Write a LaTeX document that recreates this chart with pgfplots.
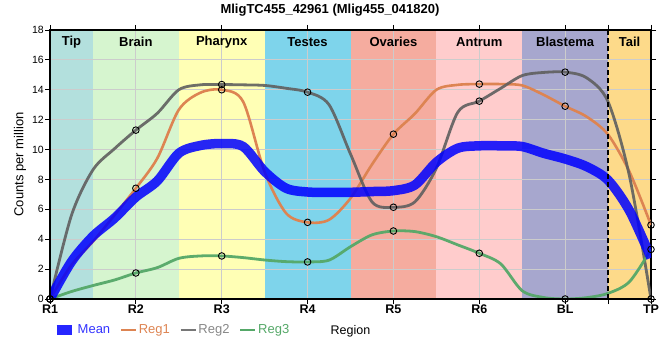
\documentclass[border=0pt]{standalone}
\usepackage{pgfplots}
\usepackage{pgfplotstable}
\pgfplotsset{compat=1.18}
\usepackage{fontspec}
\setmainfont{Liberation Sans}
\definecolor{meanblue}{RGB}{0,0,255}
\definecolor{regA}{HTML}{DD8452}
\definecolor{regB}{HTML}{5F5F5F}
\definecolor{regC}{HTML}{55A868}
\definecolor{bTip}{HTML}{B3E0DD}
\definecolor{bBrain}{HTML}{D6F5CF}
\definecolor{bPhar}{HTML}{FFFFB5}
\definecolor{bTest}{HTML}{7ED4EB}
\definecolor{bOva}{HTML}{F5AC9F}
\definecolor{bAnt}{HTML}{FFCCCC}
\definecolor{bBla}{HTML}{A7A7CE}
\definecolor{bTail}{HTML}{FDDA8A}
\pgfplotstableread{
x     reg1   reg2   reg3   mean
0     0      0      0      0
0.25  2.28   5.6    0.5    2.5
0.5   3.84   8.64   0.9    4.2
0.75  5.6    10.05  1.27   5.4
1     7.41   11.3   1.74   6.82
1.25  9.42   12.43  2.1    7.9
1.5   12.66  14.0   2.72   9.75
1.75  13.8   14.33  2.88   10.27
2     14.0   14.35  2.88   10.4
2.25  13.2   14.33  2.77   10.2
2.5   8.5    14.29  2.61   8.53
2.75  5.74   14.1   2.5    7.41
3     5.13   13.84  2.48   7.16
3.25  5.3    13.0   2.6    7.14
3.5   6.74   9.7    3.5    7.14
3.75  9.0    6.5    4.29   7.19
4     11.03  6.14   4.55   7.25
4.25  12.4   6.5    4.51   7.63
4.5   14.0   8.75   4.17   9.15
4.75  14.33  12.5   3.62   10.09
5     14.38  13.24  3.06   10.25
5.25  14.38  14.1   2.35   10.25
5.5   14.29  14.95  0.55   10.2
5.75  13.66  15.16  0.1    9.75
6     12.9   15.18  0      9.37
6.25  12.2   14.8   0.09   8.86
6.5   11.0   13.2   0.38   7.95
6.75  8.5    8.2    1.16   5.9
7     4.95   0      3.32   2.76
}\tabcurves
\pgfplotstableread{
x  reg1   reg2   reg3
0  0      0      0
1  7.41   11.3   1.74
2  14.0   14.35  2.88
3  5.13   13.84  2.48
4  11.03  6.14   4.55
5  14.38  13.24  3.06
6  12.9   15.18  0
7  4.95   0      3.32
}\tabpts
\begin{document}
\begin{tikzpicture}
\begin{axis}[
  set layers,
  scale only axis, width=601bp, height=269bp,
  xmin=0, xmax=7, ymin=0, ymax=18,
  xtick={0,...,7},
  xticklabels={R1,R2,R3,R4,R5,R6,BL,TP},
  extra x ticks={6.5}, extra x tick labels={}, extra x tick style={grid=none},
  ytick={0,2,...,18},
  /pgf/number format/assume math mode=true,
  tick align=outside,
  major tick length=5bp,
  tick style={black, line width=0.8bp},
  grid=major,
  grid style={color=black!20, line width=0.8bp},
  axis line style={black, line width=1.2bp},
  yticklabel style={font=\fontsize{10.5bp}{12bp}\selectfont, inner sep=1bp},
  xticklabel style={font=\bfseries\fontsize{12.5bp}{14bp}\selectfont, inner sep=1bp},
  ylabel={Counts per million},
  ylabel style={font=\fontsize{13bp}{15bp}\selectfont, at={(axis description cs:0,0.5)}, anchor=center, yshift=30bp},
  xlabel={Region},
  xlabel style={font=\fontsize{12.5bp}{15bp}\selectfont, at={(axis description cs:0.5,0)}, anchor=center, yshift=-32bp},
  legend columns=-1,
  legend style={draw=none, fill=none, at={(axis description cs:0,0)}, anchor=west, xshift=2bp, yshift=-31bp,
    font=\fontsize{13bp}{15bp}\selectfont, inner sep=0pt,
    nodes={inner sep=1.5bp},
    /tikz/every odd column/.append style={column sep=0bp},
    /tikz/every even column/.append style={column sep=8bp}},
  legend image code/.code={\draw[#1] (0bp,0bp) -- (15bp,0bp);},
]
\addplot[forget plot, on layer=axis background, fill=bTip, draw=none] coordinates {(0,18) (0.5,18)} \closedcycle;
\addplot[forget plot, on layer=axis background, fill=bBrain, draw=none] coordinates {(0.5,18) (1.5,18)} \closedcycle;
\addplot[forget plot, on layer=axis background, fill=bPhar, draw=none] coordinates {(1.5,18) (2.5,18)} \closedcycle;
\addplot[forget plot, on layer=axis background, fill=bTest, draw=none] coordinates {(2.5,18) (3.5,18)} \closedcycle;
\addplot[forget plot, on layer=axis background, fill=bOva, draw=none] coordinates {(3.5,18) (4.5,18)} \closedcycle;
\addplot[forget plot, on layer=axis background, fill=bAnt, draw=none] coordinates {(4.5,18) (5.5,18)} \closedcycle;
\addplot[forget plot, on layer=axis background, fill=bBla, draw=none] coordinates {(5.5,18) (6.5,18)} \closedcycle;
\addplot[forget plot, on layer=axis background, fill=bTail, draw=none] coordinates {(6.5,18) (7,18)} \closedcycle;
\addplot[forget plot, regA, line width=2.6bp, smooth, tension=0.5] table[x=x, y=reg1] {\tabcurves};
\addplot[forget plot, regB, opacity=0.9, line width=2.8bp, smooth, tension=0.5] table[x=x, y=reg2] {\tabcurves};
\addplot[forget plot, regC, opacity=0.95, line width=2.8bp, smooth, tension=0.5] table[x=x, y=reg3] {\tabcurves};
\addplot[forget plot, meanblue, opacity=0.85, line width=9.5bp, smooth, tension=0.5] table[x=x, y=mean] {\tabcurves};
\addplot[forget plot, black, line width=2bp, dash pattern=on 5bp off 3bp] coordinates {(6.5,0) (6.5,18)};
\addplot[forget plot, only marks, mark=o, mark size=3.3bp, mark options={black, line width=0.9bp}] table[x=x, y=reg1] {\tabpts};
\addplot[forget plot, only marks, mark=o, mark size=3.3bp, mark options={black, line width=0.9bp}] table[x=x, y=reg2] {\tabpts};
\addplot[forget plot, only marks, mark=o, mark size=3.3bp, mark options={black, line width=0.9bp}] table[x=x, y=reg3] {\tabpts};
\addlegendimage{meanblue, opacity=0.85, line width=9bp}
\addlegendentry{\textcolor{meanblue!80!white}{Mean}}
\addlegendimage{regA, line width=2.6bp}
\addlegendentry{\textcolor{regA}{Reg1}}
\addlegendimage{regB!85!white, line width=2.6bp}
\addlegendentry{\textcolor{regB!75!white}{Reg2}}
\addlegendimage{regC, line width=2.6bp}
\addlegendentry{\textcolor{regC}{Reg3}}
\draw[black, line width=2.8bp] (rel axis cs:0,0) -- (rel axis cs:1,0);
\draw[black, line width=2.4bp] (rel axis cs:0,0) -- (rel axis cs:0,1);
\node[font=\bfseries\fontsize{13bp}{15bp}\selectfont, anchor=center] at (axis cs:0.25,17.2) {Tip};
\node[font=\bfseries\fontsize{13bp}{15bp}\selectfont, anchor=center] at (axis cs:1,17.2) {Brain};
\node[font=\bfseries\fontsize{13bp}{15bp}\selectfont, anchor=center] at (axis cs:2,17.2) {Pharynx};
\node[font=\bfseries\fontsize{13bp}{15bp}\selectfont, anchor=center] at (axis cs:3,17.2) {Testes};
\node[font=\bfseries\fontsize{13bp}{15bp}\selectfont, anchor=center] at (axis cs:4,17.2) {Ovaries};
\node[font=\bfseries\fontsize{13bp}{15bp}\selectfont, anchor=center] at (axis cs:5,17.2) {Antrum};
\node[font=\bfseries\fontsize{13bp}{15bp}\selectfont, anchor=center] at (axis cs:6,17.2) {Blastema};
\node[font=\bfseries\fontsize{13bp}{15bp}\selectfont, anchor=center] at (axis cs:6.75,17.2) {Tail};
\coordinate (O) at (rel axis cs:0,0);
\coordinate (T) at (rel axis cs:0,1);
\end{axis}
\node[font=\bfseries\fontsize{13bp}{15bp}\selectfont, anchor=center] at ([xshift=280bp, yshift=20bp]T) {MligTC455\_42961 (Mlig455\_041820)};
\path ([xshift=-50bp, yshift=-61bp]O) rectangle ([xshift=610bp, yshift=299bp]O);
\end{tikzpicture}
\end{document}
